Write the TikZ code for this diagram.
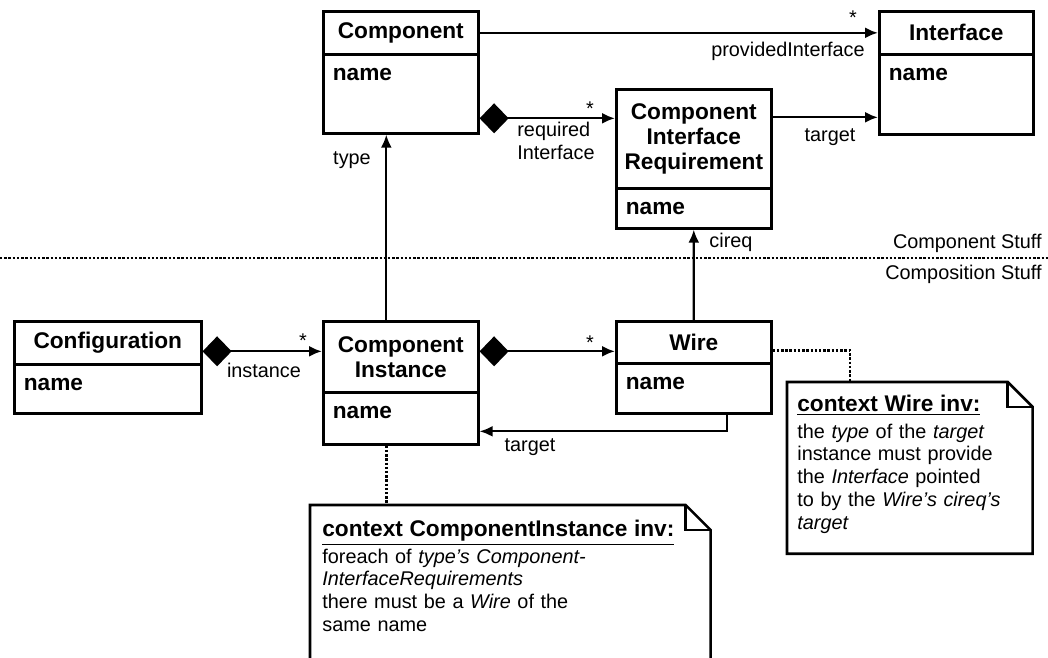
\documentclass[tikz,border=0pt]{standalone}
\usepackage{fontspec}
\setmainfont{Liberation Sans}
\usetikzlibrary{arrows.meta}

\newcommand\notehead{\bfseries\fontsize{12.9}{13}\selectfont}

\tikzset{
  classhead/.style={draw, line width=1.5pt, anchor=north west, inner sep=0pt,
    align=center, font=\bfseries\fontsize{12.9}{14.2}\selectfont},
  classattr/.style={draw, line width=1.5pt, anchor=north west, inner xsep=0.19cm,
    inner ysep=0pt, align=left, text height=0.52cm,
    font=\bfseries\fontsize{12.9}{14.2}\selectfont},
  assoc/.style={line width=1.3pt, -{Latex[length=0.26cm,width=0.22cm]}},
  compos/.style={line width=1.3pt,
    {Diamond[length=0.58cm,width=0.6cm]}-{Latex[length=0.26cm,width=0.22cm]}},
  rolelabel/.style={inner sep=0pt, align=left, font=\fontsize{11.3}{13}\selectfont},
  notebox/.style={anchor=north west, inner sep=0pt},
  notetext/.style={anchor=north west, inner sep=0pt, align=left,
    font=\fontsize{11.3}{13}\selectfont},
  notepen/.style={line width=1.5pt},
  tether/.style={line width=1.4pt, densely dotted},
  separator/.style={line width=1.4pt, densely dotted},
}

\begin{document}
\begin{tikzpicture}[x=0.02cm, y=-0.02cm]
  \useasboundingbox (0,0) rectangle (1048,657);

  \node[classhead, minimum width=3.1cm, minimum height=0.86cm] (comp) at (322,10) {Component};
  \node[classattr, text width=2.72cm, text depth=1.06cm] (compattr) at (322,53) {name};
  \node[classhead, minimum width=3.08cm, minimum height=0.86cm] (iface) at (878,10) {Interface};
  \node[classattr, text width=2.70cm, text depth=1.08cm] (ifaceattr) at (878,53) {name};
  \node[classhead, minimum width=3.1cm, minimum height=1.98cm] (cir) at (615,88) {Component\\Interface\\Requirement};
  \node[classattr, text width=2.72cm, text depth=0.28cm] (cirattr) at (615,187) {name};
  \node[classhead, minimum width=3.74cm, minimum height=0.86cm] (config) at (13,320) {Configuration};
  \node[classattr, text width=3.36cm, text depth=0.46cm] (configattr) at (13,363) {name};
  \node[classhead, minimum width=3.1cm, minimum height=1.42cm] (inst) at (322,320) {Component\\Instance};
  \node[classattr, text width=2.72cm, text depth=0.52cm] (instattr) at (322,391) {name};
  \node[classhead, minimum width=3.1cm, minimum height=0.84cm] (wire) at (615,320) {Wire};
  \node[classattr, text width=2.72cm, text depth=0.48cm] (wireattr) at (615,362) {name};

  \node[notebox, minimum width=4.9cm, minimum height=3.42cm] (wirenote) at (787,382) {};
  \node[notebox, minimum width=8cm, minimum height=3.16cm] (cinote) at (310,505) {};
  \foreach \n in {wirenote,cinote}{
    \draw[notepen] (\n.north west) -- ([xshift=-0.5cm]\n.north east)
      -- ([yshift=-0.5cm]\n.north east) -- (\n.south east) -- (\n.south west) -- cycle;
    \draw[notepen] ([xshift=-0.5cm]\n.north east) |- ([yshift=-0.5cm]\n.north east);
  }
  \node[notetext, text width=4.5cm] (wirenotetext) at (797,395) {\underline{\notehead context Wire inv:}\\[2pt]
    the \textit{type} of the \textit{target}\\
    instance must provide\\
    the \textit{Interface} pointed\\
    to by the \textit{Wire's cireq's}\\
    \textit{target}};
  \node[notetext, text width=7.5cm] (cinotetext) at (322,520) {\underline{\notehead context ComponentInstance inv:}\\[2pt]
    foreach of \textit{type's Component-}\\
    \textit{InterfaceRequirements}\\
    there must be a \textit{Wire} of the\\
    same name};

  \draw[assoc] (comp.east) -- (iface.west);
  \draw[compos] ([yshift=-0.49cm]compattr.east) -- ([yshift=-0.49cm]compattr.east -| cir.west);
  \draw[assoc] ([yshift=0.43cm]cir.east) -- ([yshift=0.43cm]cir.east -| iface.west);
  \draw[assoc] ([xshift=-0.29cm]inst.north) -- ([xshift=-0.29cm]inst.north |- compattr.south);
  \draw[assoc] (wire.north) -- (cirattr.south);
  \draw[compos] ([yshift=-0.17cm]config.east) -- ([yshift=-0.17cm]config.east -| inst.west);
  \draw[compos] ([yshift=0.11cm]inst.east) -- ([yshift=0.11cm]inst.east -| wire.west);
  \draw[assoc] ([xshift=0.67cm]wireattr.south) |- ([yshift=-0.26cm]instattr.east);
  \draw[tether] ([yshift=-0.16cm]wire.east) -| ([xshift=-1.2cm]wirenote.north);
  \draw[tether] ([xshift=-0.29cm]instattr.south) -- ([xshift=-0.29cm]instattr.south |- cinote.north);

  \coordinate (sepw) at (0,258);
  \coordinate (sepe) at (1048,258);
  \draw[separator] (sepw) -- (sepe);
  \node[rolelabel, anchor=base east] (compstuff) at (1042,248) {Component Stuff};
  \node[rolelabel, anchor=base east] (compostuff) at (1042,279) {Composition Stuff};

  \node[rolelabel] (provstar) at (853,18) {*};
  \node[rolelabel] (provlabel) at (788,51) {providedInterface};
  \node[rolelabel] (targetlabel) at (830,137) {target};
  \node[rolelabel] (reqstar) at (590,109) {*};
  \node[rolelabel] (reqlabel) at (556,141) {required\\Interface};
  \node[rolelabel] (typelabel) at (352,160) {type};
  \node[rolelabel] (cireqlabel) at (731,242) {cireq};
  \node[rolelabel] (inststar) at (303,341) {*};
  \node[rolelabel] (instlabel) at (264,370) {instance};
  \node[rolelabel] (wirestar) at (590,343) {*};
  \node[rolelabel] (wiretarget) at (530,447) {target};
\end{tikzpicture}
\end{document}
